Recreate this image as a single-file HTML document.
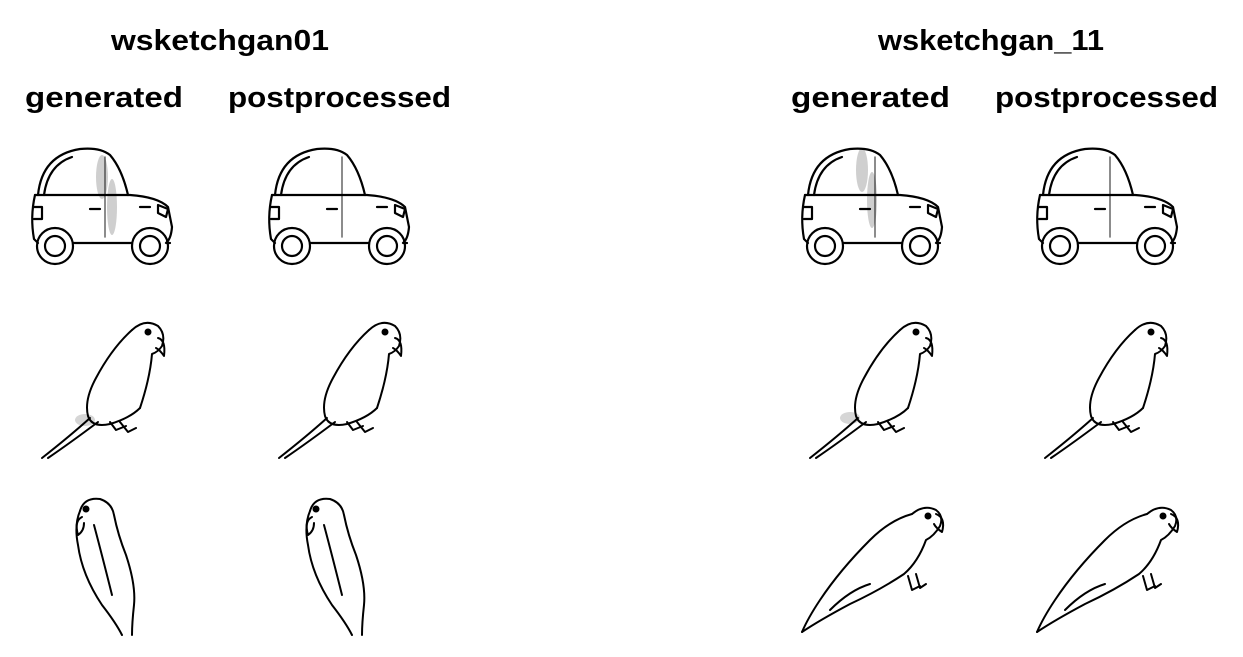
<!DOCTYPE html>
<html><head><meta charset="utf-8"><style>
html,body{margin:0;padding:0;background:#fff;}
svg{display:block}
text{font-family:"Liberation Sans",sans-serif;font-weight:bold;fill:#000}
</style></head><body>
<svg width="1243" height="657" viewBox="0 0 1243 657" xmlns="http://www.w3.org/2000/svg">
<defs>
<g id="car" fill="none" stroke="#000" stroke-width="2.2" stroke-linejoin="round" stroke-linecap="round">
  <path d="M8 48 Q12 8 50 2 Q70 0 80 8 Q92 22 98 48"/>
  <path d="M14 48 Q18 18 42 10"/>
  <path d="M5 48 L100 48 Q128 50 138 60 L142 80 Q141 92 136 96 L140 96"/>
  <path d="M5 48 Q0 70 4 92 L8 96"/>
  <path d="M44 96 L101 96"/>
  <path d="M4 60 L12 60 L12 72 L4 72"/>
  <path d="M60 62 L70 62"/><path d="M110 60 L120 60"/>
  <path d="M128 58 L138 62 L136 70 L128 66 Z"/>
  <circle cx="25" cy="99" r="18"/><circle cx="25" cy="99" r="10"/>
  <circle cx="120" cy="99" r="18"/><circle cx="120" cy="99" r="10"/>
  <path d="M75 10 L75 90" stroke-width="1.5" opacity="0.6"/>
</g>
<g id="smudge" fill="#777" opacity="0.35">
  <ellipse cx="72" cy="30" rx="6" ry="22"/>
  <ellipse cx="82" cy="60" rx="5" ry="28"/>
</g>
<g id="parrotA" fill="none" stroke="#000" stroke-width="2" stroke-linecap="round" stroke-linejoin="round">
  <path d="M92 12 Q105 0 118 8 Q126 16 122 28 Q118 34 112 36 Q110 60 100 90"/>
  <path d="M118 20 Q126 22 124 38 Q120 32 116 30"/>
  <circle cx="108" cy="14" r="2.5" fill="#000"/>
  <path d="M92 12 Q72 30 56 60 Q44 82 48 98 Q52 110 70 106 Q90 100 100 90"/>
  <path d="M50 100 Q30 118 2 140"/><path d="M58 104 Q30 125 8 140"/>
  <path d="M70 104 L76 112 L86 108 M80 104 L88 114 L96 110"/>
</g>
<g id="parrotB" fill="none" stroke="#000" stroke-width="2" stroke-linecap="round" stroke-linejoin="round">
  <path d="M8 16 Q12 2 28 4 Q40 8 42 20 Q46 40 54 60 Q64 90 62 110 Q60 128 60 140"/>
  <path d="M8 16 Q2 30 6 50 Q10 80 30 110 Q44 128 50 140"/>
  <path d="M10 22 Q2 26 6 40 Q12 36 12 28"/>
  <circle cx="14" cy="14" r="2.5" fill="#000"/>
  <path d="M22 30 Q30 60 40 100"/>
</g>
<g id="parrotC" fill="none" stroke="#000" stroke-width="2" stroke-linecap="round" stroke-linejoin="round">
  <path d="M112 14 Q124 4 136 10 Q144 16 140 26 Q134 36 126 40 Q118 62 104 74 Q80 90 50 104 Q20 120 2 132"/>
  <path d="M112 14 Q90 20 70 40 Q40 70 20 100 Q8 118 2 132"/>
  <path d="M136 14 Q146 18 142 32 Q136 28 134 24"/>
  <circle cx="128" cy="16" r="2.5" fill="#000"/>
  <path d="M108 76 L112 90 L120 86 M116 74 L120 88 L126 84"/>
  <path d="M30 110 Q50 90 70 84"/>
</g>
</defs>

<text x="220" y="50" font-size="29" text-anchor="middle" textLength="218" lengthAdjust="spacingAndGlyphs">wsketchgan01</text>
<text x="25" y="107" font-size="29" textLength="158" lengthAdjust="spacingAndGlyphs">generated</text>
<text x="228" y="107" font-size="29" textLength="223" lengthAdjust="spacingAndGlyphs">postprocessed</text>
<text x="991" y="50" font-size="29" text-anchor="middle" textLength="226" lengthAdjust="spacingAndGlyphs">wsketchgan_11</text>
<text x="791" y="107" font-size="29" textLength="159" lengthAdjust="spacingAndGlyphs">generated</text>
<text x="995" y="107" font-size="29" textLength="223" lengthAdjust="spacingAndGlyphs">postprocessed</text>

<use href="#smudge" x="30" y="147"/>
<use href="#smudge" x="790" y="140"/>
<use href="#car" x="30" y="147"/>
<use href="#car" x="267" y="147"/>
<use href="#car" x="800" y="147"/>
<use href="#car" x="1035" y="147"/>

<ellipse cx="85" cy="420" rx="10" ry="6" fill="#777" opacity="0.3"/>
<ellipse cx="850" cy="418" rx="10" ry="6" fill="#777" opacity="0.3"/>
<use href="#parrotA" x="40" y="318"/>
<use href="#parrotA" x="277" y="318"/>
<use href="#parrotA" x="808" y="318"/>
<use href="#parrotA" x="1043" y="318"/>

<use href="#parrotB" x="72" y="495"/>
<use href="#parrotB" x="302" y="495"/>

<use href="#parrotC" x="800" y="500"/>
<use href="#parrotC" x="1035" y="500"/>
</svg>
</body></html>
